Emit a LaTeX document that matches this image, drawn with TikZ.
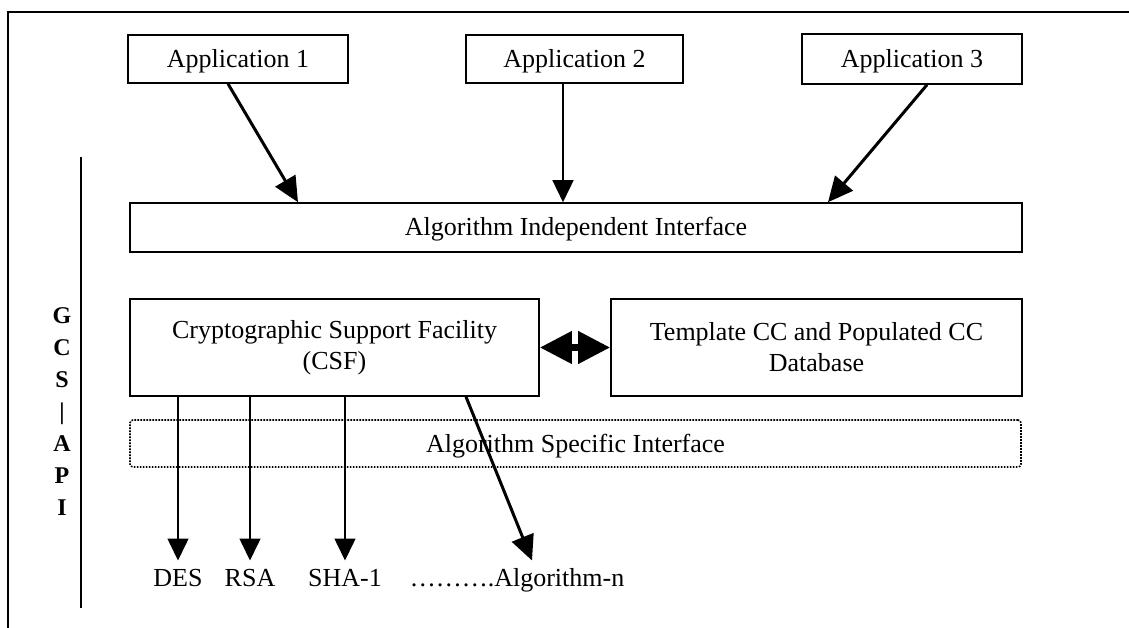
\documentclass[tikz,border=0pt]{standalone}
\usepackage{fontspec}
\setmainfont{Liberation Serif}
\usetikzlibrary{arrows.meta}
\tikzset{
  every node/.style={
    font=\fontsize{26}{31}\selectfont
  },
  dotted block/.style={
    rectangle,
    rounded corners=3pt,
    draw,
    line width=1.6pt,
    dash pattern=on 1.6pt off 1.4pt,
    minimum height=47pt
  },
}
\tikzstyle{block} = [rectangle, draw=black, line width=1.6pt, inner sep=0pt, align=center]
\tikzstyle{one line} = [text height=17pt, text depth=0pt]
\tikzstyle{frame} = [line width=1.6pt]
\tikzstyle{algo} = [inner sep=0pt, outer sep=8.5pt, text height=17pt, text depth=5pt]
\tikzstyle{arrow} = [line width=1.6pt, -{Triangle[length=22pt,width=21pt]}]
\tikzstyle{bold arrow} = [line width=3pt, -{Triangle[length=25pt,width=23pt]}]
\tikzstyle{link} = [line width=7pt, {Triangle[length=32pt,width=31pt]}-{Triangle[length=32pt,width=31pt]}]

\begin{document}
\begin{tikzpicture}[x=1pt, y=-1pt, node distance=337pt, auto]
	\useasboundingbox (0,0) rectangle (1129,628);
	% frame
	\draw [frame] (1129,12) -- (8,12) -- (8,628);
	\draw [frame] (81,157) -- (81,608);

	% blocks
	\node [block, one line, minimum width=220pt, minimum height=48pt] (app1) at (238,59) {Application 1};
	\node [block, one line, right of=app1, minimum width=217pt, minimum height=48pt, xshift=-0.5pt] (app2) {Application 2};
	\node [block, one line, right of=app2, minimum width=220pt, minimum height=50pt, xshift=0.5pt] (app3) {Application 3};
	\node [block, one line, minimum width=892pt, minimum height=49pt] (indep) at (576,227.5) {Algorithm Independent Interface};
	\node [block, minimum width=409pt, minimum height=97pt] (csf) at (334.5,347.5) {Cryptographic Support Facility\\(CSF)};
	\node [block, minimum width=411pt, minimum height=97pt] (ccdb) at (816.5,347.5) {Template CC and Populated CC\\Database};
	\node [dotted block, one line, minimum width=891pt] (spec) at (575.5,443.5) {Algorithm Specific Interface};

	% side label
	\node [font=\fontsize{24}{32}\selectfont\bfseries, align=center, inner sep=0pt] (gcs) at (62,412) {G\\C\\S\\|\\A\\P\\I};

	% algorithms
	\node [algo] (des) at (178,580) {DES};
	\node [algo] (rsa) at (250,580) {RSA};
	\node [algo] (sha) at (345,580) {SHA-1};
	\node [algo] (algn) at (517,580) {……….Algorithm-n};

	% arrows
	\draw [bold arrow] ([xshift=-10pt]app1.south) -- ([xshift=-278pt]indep.north);
	\draw [arrow] ([xshift=-11.5pt]app2.south) -- ([xshift=-13pt]indep.north);
	\draw [bold arrow] ([xshift=15pt]app3.south) -- ([xshift=252pt]indep.north);
	\draw [link] (csf) -- (ccdb);
	\draw [arrow] (des.north |- csf.south) -- (des.north);
	\draw [arrow] (rsa.north |- csf.south) -- (rsa.north);
	\draw [arrow] (sha.north |- csf.south) -- (sha.north);
	\draw [bold arrow] ([xshift=131.5pt]csf.south) -- ([xshift=15pt]algn.north);
\end{tikzpicture}
\end{document}
